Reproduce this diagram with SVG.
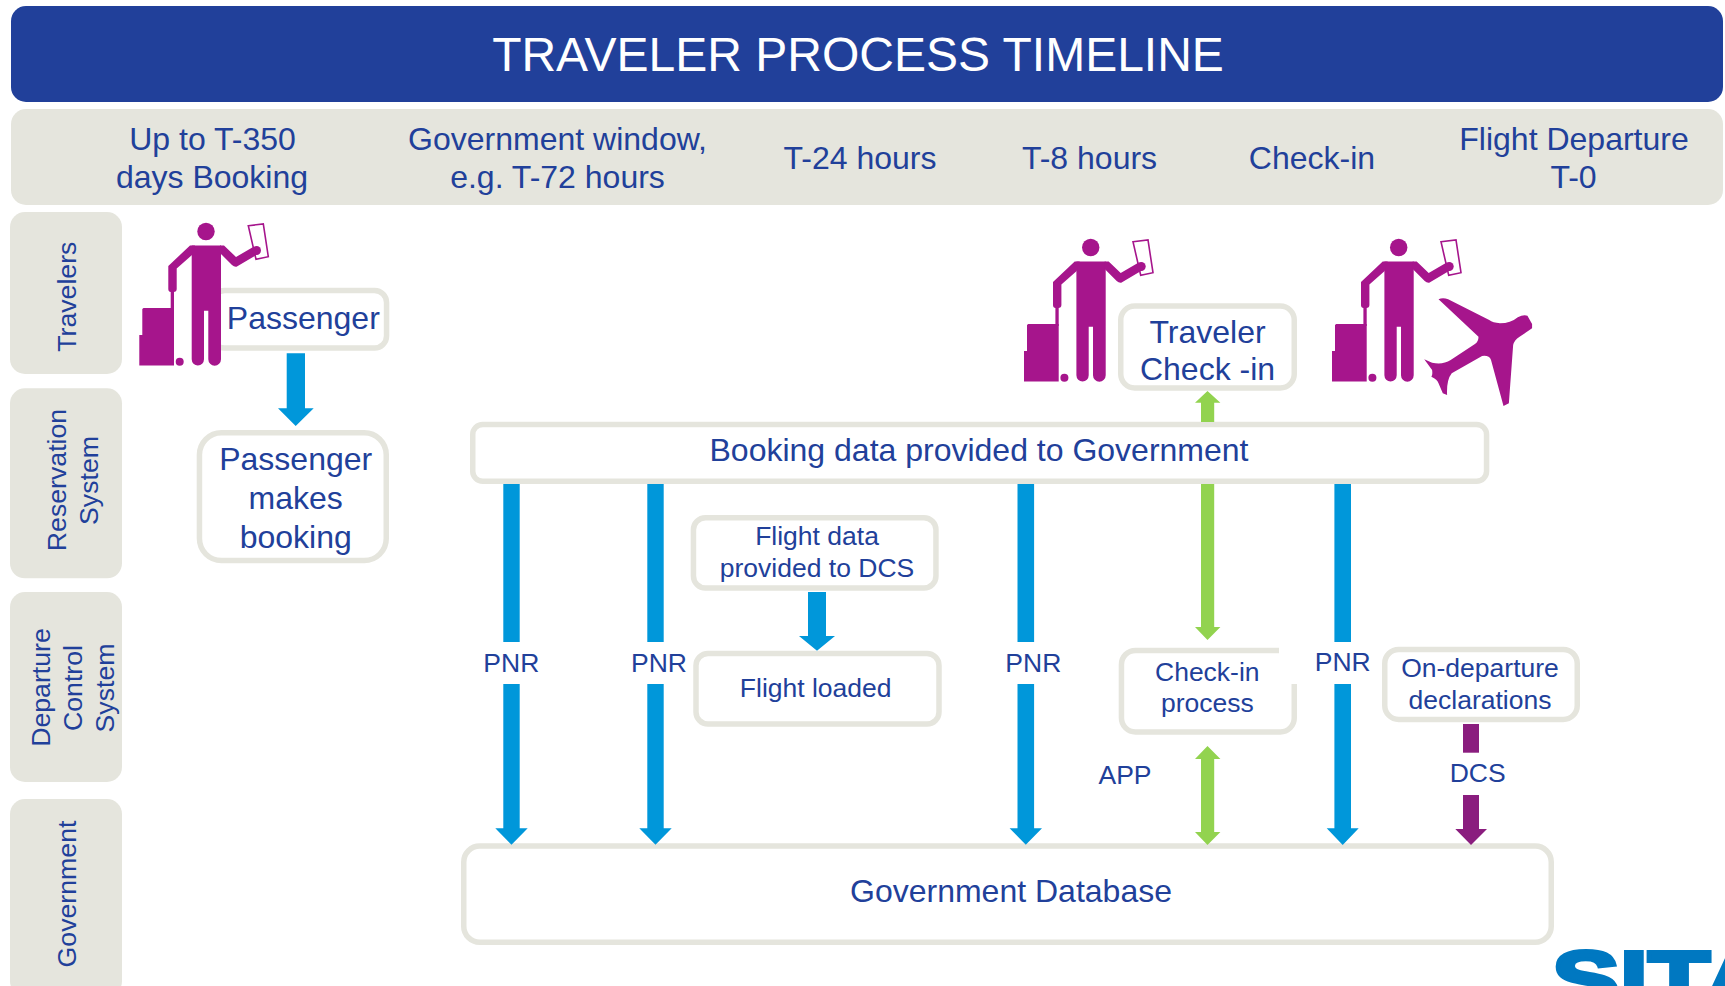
<svg xmlns="http://www.w3.org/2000/svg" xmlns:xlink="http://www.w3.org/1999/xlink" width="1725" height="986" viewBox="0 0 1725 986">
<style>
text{font-family:"Liberation Sans",Arial,sans-serif;fill:#21409A;text-anchor:middle}
.lg{font-size:32px}
.sm{font-size:26.5px}
.lane{font-size:26.7px}
.band{fill:#E5E5DD}
.box{fill:#fff;stroke:#E5E5DD;stroke-width:5.5}
.blue{fill:#0097DA}
.green{fill:#92D34F}
.plum{fill:#8A1D7E}
.fig{fill:#A6158C}
.mask{fill:#fff}
</style>
<defs>
<g id="person">
<path class="fig" d="M191.7,245.5H221V359.3a6.35,6.35 0 0 1-12.7,0V310.7H204V359.3a6.15,6.15 0 0 1-12.3,0Z"/>
<circle class="fig" cx="206" cy="231.5" r="8.7"/>
<path class="fig" d="M190,245.5H195L192,255L176.7,268.5V289Q176.7,292 173.5,292H171Q168.3,292 168.3,289V266Z"/>
<path d="M248.3,225.7L263.3,224L268.3,256.7L256,259.3Z" fill="#fff" stroke="#A6158C" stroke-width="1.6"/>
<path class="fig" d="M220,245.5H224L236,257L254,246.5L258,254L236.5,266.7Q234,267 232,265L220,253Z"/>
<circle class="fig" cx="256.5" cy="250.5" r="4.5"/>
<rect class="fig" x="170.7" y="290" width="3.3" height="20"/>
<path class="fig" d="M143.5,308H174V365.5H139.3V335H142.3V309Z"/>
<circle class="fig" cx="179.7" cy="361.7" r="4"/>
</g>
</defs>

<g id="header">
<rect x="11" y="6" width="1712" height="96" rx="15" fill="#21409A"/>
<text x="858" y="70.5" font-size="48" style="fill:#fff">TRAVELER PROCESS TIMELINE</text>
</g>

<g id="timeline">
<rect class="band" x="11" y="109" width="1712" height="96" rx="15"/>
<text class="lg" x="212.5" y="150">Up to T-350</text>
<text class="lg" x="212" y="188">days Booking</text>
<text class="lg" x="557.5" y="150">Government window,</text>
<text class="lg" x="557.5" y="188">e.g. T-72 hours</text>
<text class="lg" x="860" y="169">T-24 hours</text>
<text class="lg" x="1089.5" y="169">T-8 hours</text>
<text class="lg" x="1312" y="169">Check-in</text>
<text class="lg" x="1574" y="150">Flight Departure</text>
<text class="lg" x="1573.5" y="188">T-0</text>
</g>

<g id="lane-travelers">
<rect class="band" x="10" y="212" width="112" height="162" rx="15"/>
<text class="lane" transform="translate(76,296.7) rotate(-90)">Travelers</text>
</g>
<g id="lane-reservation">
<rect class="band" x="10" y="388.3" width="112" height="190" rx="15"/>
<text class="lane" transform="translate(66,480) rotate(-90)">Reservation</text>
<text class="lane" transform="translate(98.3,480.5) rotate(-90)">System</text>
</g>
<g id="lane-dcs">
<rect class="band" x="10" y="592" width="112" height="190" rx="15"/>
<text class="lane" transform="translate(50,687.5) rotate(-90)">Departure</text>
<text class="lane" transform="translate(81.7,688) rotate(-90)">Control</text>
<text class="lane" transform="translate(114,688) rotate(-90)">System</text>
</g>
<g id="lane-government">
<rect class="band" x="10" y="799" width="112" height="197" rx="15"/>
<text class="lane" transform="translate(76,894) rotate(-90)">Government</text>
</g>

<g id="passenger">
<rect class="box" x="212.75" y="290.45" width="173.8" height="57.5" rx="12"/>
<use href="#person"/>
<text class="lg" x="303.3" y="329">Passenger</text>
</g>
<g id="passenger-makes-booking">
<rect class="box" x="199.45" y="432.75" width="186.8" height="127.8" rx="22"/>
<text class="lg" x="295.7" y="470">Passenger</text>
<text class="lg" x="295.7" y="509">makes</text>
<text class="lg" x="295.7" y="547.5">booking</text>
</g>
<g id="traveler-check-in">
<use href="#person" transform="translate(884.7,16)"/>
<rect class="box" x="1120.75" y="306" width="173.5" height="82" rx="14"/>
<text class="lg" x="1207.5" y="342.5">Traveler</text>
<text class="lg" x="1207.5" y="380">Check -in</text>
</g>
<g id="departing-traveler">
<use href="#person" transform="translate(1192.7,16)"/>
<path class="fig" transform="translate(1000,220) scale(.3571,.3333)" d="M1490,312L1477,287Q1465,283 1450,292Q1430,310 1400,310Q1380,308 1370,300L1255,238Q1240,232 1228,238L1340,350Q1340,365 1330,372L1262,420Q1240,435 1210,428L1188,418L1210,450Q1212,465 1208,470Q1225,478 1228,490L1240,520L1252,525Q1250,480 1265,460L1350,408Q1370,405 1375,420L1410,558L1425,550L1437,375Q1440,360 1455,350L1490,325Z"/>
</g>
<g id="booking-data">
<rect class="box" x="472.75" y="424.45" width="1013.8" height="56.8" rx="10"/>
<text class="lg" x="979" y="461">Booking data provided to Government</text>
</g>
<g id="flight-data">
<rect class="box" x="693.45" y="517.75" width="242.5" height="70.2" rx="12"/>
<text class="sm" x="817" y="545">Flight data</text>
<text class="sm" x="817" y="577.3">provided to DCS</text>
</g>
<g id="flight-loaded">
<rect class="box" x="696" y="653.45" width="243" height="70.5" rx="12"/>
<text class="sm" x="815.7" y="697.3">Flight loaded</text>
</g>
<g id="check-in-process">
<rect class="box" x="1121.45" y="650.45" width="172.8" height="81.5" rx="14"/>
<text class="sm" x="1207.3" y="680.7">Check-in</text>
<text class="sm" x="1207.3" y="712.3">process</text>
</g>
<g id="on-departure">
<rect class="box" x="1384.75" y="649.45" width="192.5" height="70" rx="14"/>
<text class="sm" x="1480" y="677">On-departure</text>
<text class="sm" x="1480" y="709">declarations</text>
</g>
<g id="government-database">
<rect class="box" x="463.75" y="846" width="1087.5" height="96.2" rx="16"/>
<text class="lg" x="1011" y="902">Government Database</text>
</g>

<g id="connectors">
<polygon class="blue" points="286.7,353.3 305,353.3 305,408.3 313.7,408.3 295.7,426 278,408.3 286.7,408.3"/>
<polygon class="blue" points="808,592 826,592 826,636 835,636 817,650.7 799,636 808,636"/>
<polygon class="green" points="1207.5,391 1220.4,402.7 1214.2,402.7 1214.2,422 1201,422 1201,402.7 1195,402.7"/>
<polygon class="green" points="1201,484 1214.2,484 1214.2,627 1220.4,627 1207.5,640 1195,627 1201,627"/>
<polygon class="green" points="1207.5,746 1220.4,759 1214.2,759 1214.2,832 1220.4,832 1207.5,845 1195,832 1201,832 1201,759 1195,759"/>
<rect class="plum" x="1463" y="724" width="16" height="28.7"/>
<polygon class="plum" points="1463,795 1479,795 1479,829 1487,829 1471,845 1455.3,829 1463,829"/>
<rect class="blue" x="503.3" y="484" width="16.4" height="158"/>
<polygon class="blue" points="503.3,684 519.7,684 519.7,828.3 527.7,828.3 511.5,844.7 495.3,828.3 503.3,828.3"/>
<rect class="blue" x="647.3" y="484" width="16.4" height="158"/>
<polygon class="blue" points="647.3,684 663.7,684 663.7,828.3 671.7,828.3 655.5,844.7 639.3,828.3 647.3,828.3"/>
<rect class="blue" x="1017.5" y="484" width="16.6" height="158"/>
<polygon class="blue" points="1017.5,684 1034.1,684 1034.1,828.3 1042,828.3 1025.8,844.7 1009.6,828.3 1017.5,828.3"/>
<rect class="blue" x="1334.4" y="484" width="16.6" height="158"/>
<rect class="mask" x="1279" y="642" width="91" height="42"/>
<polygon class="blue" points="1334.4,684 1351,684 1351,828.3 1358.7,828.3 1342.7,845 1326.7,828.3 1334.4,828.3"/>
<text class="sm" x="511.3" y="671.7">PNR</text>
<text class="sm" x="659" y="671.7">PNR</text>
<text class="sm" x="1033.3" y="671.7">PNR</text>
<text class="sm" x="1342.7" y="671.2">PNR</text>
<text class="sm" x="1125" y="784.3">APP</text>
<text class="sm" x="1477.7" y="782.3">DCS</text>
</g>

<g id="logo">
<text x="1552" y="1007" font-size="80" font-weight="700" textLength="224" lengthAdjust="spacingAndGlyphs" stroke="#0078C1" stroke-width="4" style="fill:#0078C1;text-anchor:start">SITA</text>
</g>
</svg>
